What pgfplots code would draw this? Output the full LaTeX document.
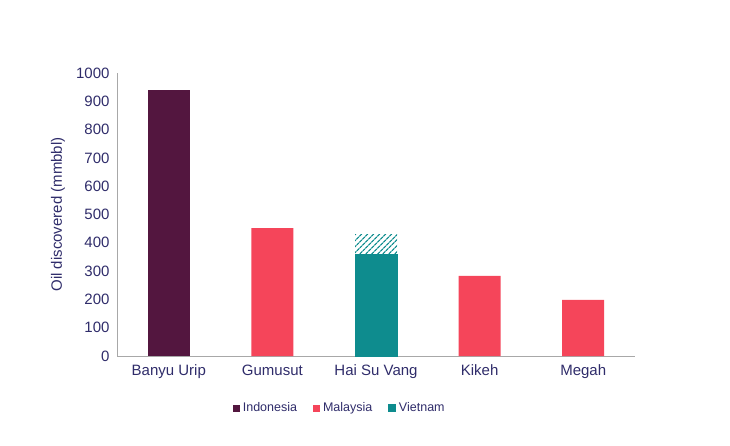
\documentclass[border=0pt]{standalone}
\usepackage{fontspec}
\setmainfont{Liberation Sans}
\usepackage{pgfplots}
\pgfplotsset{compat=1.18}
\usetikzlibrary{patterns.meta}
\definecolor{indo}{HTML}{53163F}
\definecolor{malay}{HTML}{F5455A}
\definecolor{viet}{HTML}{0E8C8E}
\definecolor{txt}{HTML}{2F2C6A}
\definecolor{axgray}{HTML}{A8A8A8}
\begin{document}
\begin{tikzpicture}[x=1pt,y=1pt]
\path[use as bounding box] (0,0) rectangle (730,445);
\begin{axis}[
  at={(117pt,89pt)}, anchor=south west,
  width=518pt, height=283pt, scale only axis,
  xmin=-0.5, xmax=4.5, ymin=0, ymax=1000,
  xtick={0,1,2,3,4},
  xticklabels={Banyu Urip,Gumusut,Hai Su Vang,Kikeh,Megah},
  ytick={0,100,...,1000},
  /pgf/number format/assume math mode=true,
  /pgf/number format/1000 sep={},
  yticklabel style={font=\fontsize{15}{17}\selectfont, text=txt},
  xticklabel style={font=\fontsize{15}{17}\selectfont, text=txt},
  ylabel={Oil discovered (mmbbl)},
  every axis y label/.style={at={(axis description cs:-0.114,0.5)}, rotate=90, anchor=center, font=\fontsize{15}{17}\selectfont, text=txt},
  axis x line*=bottom, axis y line*=left,
  axis line style={axgray, line width=1pt},
  x axis line style={-}, y axis line style={-},
  major tick length=0pt,
  xtick style={draw=none}, ytick style={draw=none},
  yticklabel style={xshift=-4pt},
  xticklabel style={yshift=-5pt},
  ybar, bar width=42pt, bar shift=0pt,
  clip=false,
  legend style={at={(0.43,-0.184)}, anchor=center, draw=none, fill=none,
    legend columns=3, font=\fontsize{12.5}{14}\selectfont, text=txt,
    /tikz/every even column/.append style={column sep=14pt},
    /tikz/every odd column/.append style={column sep=1pt},
    inner sep=0pt},
  legend image code/.code={\fill[#1] (0pt,-3.5pt) rectangle (7pt,3.5pt);},
]
\addplot[draw=none, fill=indo] coordinates {(0,940)};
\addlegendentry{Indonesia}
\addplot[draw=none, fill=malay] coordinates {(1,452) (3,283) (4,198)};
\addlegendentry{Malaysia}
\addplot[forget plot, draw=none, pattern={Lines[angle=45,distance=4pt,line width=1.3pt]}, pattern color=viet] coordinates {(2,431)};
\addplot[draw=viet, line width=0.6pt, fill=viet, legend image code/.code={\fill[viet] (0pt,-3.5pt) rectangle (7pt,3.5pt);}] coordinates {(2,360)};
\addlegendentry{Vietnam}
\end{axis}
\end{tikzpicture}
\end{document}
